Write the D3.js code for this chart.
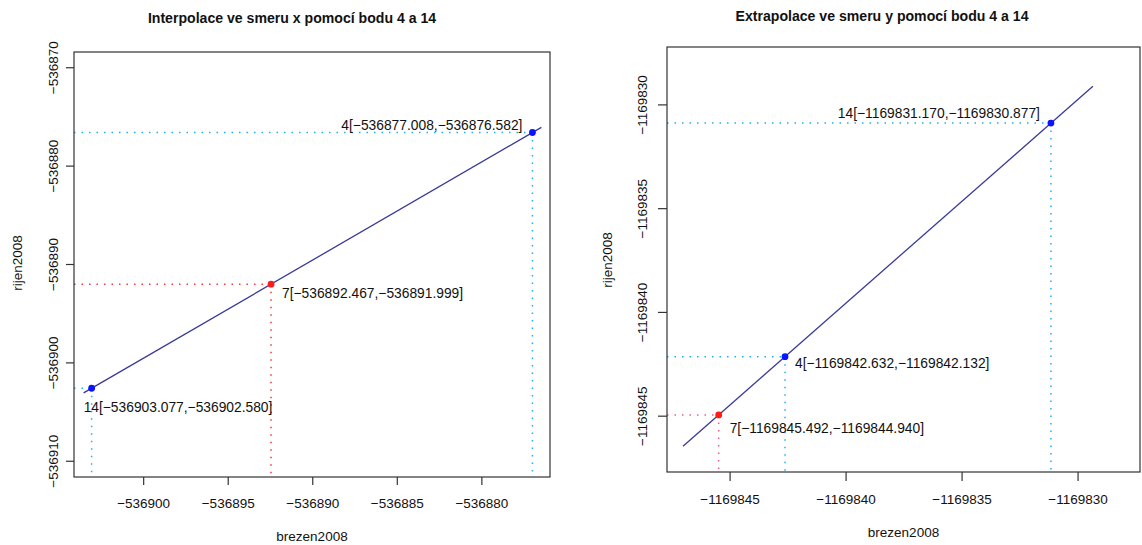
<!DOCTYPE html>
<html>
<head>
<meta charset="utf-8">
<script src="https://cdn.jsdelivr.net/npm/d3@7/dist/d3.min.js"></script>
<style>
  html, body { margin: 0; padding: 0; background: #fff; }
  svg { display: block; font-family: "Liberation Sans", Arial, Helvetica, sans-serif; }
</style>
</head>
<body>
<svg id="chart" width="1142" height="545"></svg>
<script>
// ---- Interpolation in x using points 4 and 14 ----
const leftTitle = "Interpolace ve smeru x pomocí bodu 4 a 14";
const leftPointIds = ["4", "7", "14"];
const leftPointX = [-536877.008, -536892.467, -536903.077];
const leftPointY = [-536876.582, -536891.999, -536902.580];
const leftPointRole = ["known", "computed", "known"];
const leftLineX = [-536903.55, -536876.48];
const leftLineY = [-536903.05, -536876.06];
const leftXDomain = [-536904.12, -536875.97];
const leftYDomain = [-536911.6, -536868.4];
const leftXTicks = [-536900, -536895, -536890, -536885, -536880];
const leftYTicks = [-536910, -536900, -536890, -536880, -536870];

// ---- Extrapolation in y using points 4 and 14 ----
const rightTitle = "Extrapolace ve smeru y pomocí bodu 4 a 14";
const rightPointIds = ["14", "4", "7"];
const rightPointX = [-1169831.170, -1169842.632, -1169845.492];
const rightPointY = [-1169830.877, -1169842.132, -1169844.940];
const rightPointRole = ["known", "known", "computed"];
const rightLineX = [-1169847.03, -1169829.36];
const rightLineY = [-1169846.45, -1169829.10];
const rightXDomain = [-1169847.72, -1169827.33];
const rightYDomain = [-1169847.69, -1169827.21];
const rightXTicks = [-1169845, -1169840, -1169835, -1169830];
const rightYTicks = [-1169845, -1169840, -1169835, -1169830];

const xLabel = "brezen2008";
const yLabel = "rijen2008";

const svg = d3.select("#chart");
const fmt3 = d3.format(".3f");
const fmtTick = d3.format("d");

function drawPanel(opt) {
  const g = svg.append("g");
  const x = d3.scaleLinear().domain(opt.xDomain).range([opt.box.left, opt.box.right]);
  const y = d3.scaleLinear().domain(opt.yDomain).range([opt.box.bottom, opt.box.top]);

  const pts = opt.ids.map((id, i) => ({
    id, x: opt.px[i], y: opt.py[i], role: opt.roles[i]
  }));

  // dotted guides from each point to the left and bottom edges
  const guides = g.append("g").attr("fill", "none")
    .attr("stroke-width", 1.5).attr("stroke-dasharray", "1.5,6");
  pts.forEach(p => {
    const c = p.role === "known" ? opt.guideKnown : opt.guideComputed;
    guides.append("line")
      .attr("x1", x(opt.xDomain[0])).attr("x2", x(p.x))
      .attr("y1", y(p.y)).attr("y2", y(p.y)).attr("stroke", c);
    guides.append("line")
      .attr("x1", x(p.x)).attr("x2", x(p.x))
      .attr("y1", y(p.y)).attr("y2", y(opt.yDomain[0])).attr("stroke", c);
  });

  // line through the two reference points
  g.append("path")
    .datum(opt.lineX.map((v, i) => [v, opt.lineY[i]]))
    .attr("fill", "none").attr("stroke", "#3a3a98").attr("stroke-width", 1.3)
    .attr("d", d3.line().x(d => x(d[0])).y(d => y(d[1])));

  // points
  g.selectAll("circle.pt").data(pts).join("circle")
    .attr("class", "pt")
    .attr("cx", d => x(d.x)).attr("cy", d => y(d.y)).attr("r", 3.4)
    .attr("fill", d => d.role === "known" ? "#0a14ff" : "#ff1a1a");

  // point labels
  g.selectAll("text.lab").data(pts).join("text")
    .attr("class", "lab")
    .attr("font-size", 13.8).attr("fill", "#111")
    .attr("text-anchor", d => opt.place[d.id].anchor)
    .attr("x", d => x(d.x) + opt.place[d.id].dx)
    .attr("y", d => y(d.y) + opt.place[d.id].dy)
    .text(d => `${d.id}[${fmt3(d.x).replace("-", "−")},${fmt3(d.y).replace("-", "−")}]`);

  // frame
  g.append("rect")
    .attr("x", opt.box.left).attr("y", opt.box.top)
    .attr("width", opt.box.right - opt.box.left)
    .attr("height", opt.box.bottom - opt.box.top)
    .attr("fill", "none").attr("stroke", "#333").attr("stroke-width", 1.2);

  // x axis ticks and labels
  const xt = g.append("g");
  opt.xTicks.forEach(t => {
    xt.append("line").attr("x1", x(t)).attr("x2", x(t))
      .attr("y1", opt.box.bottom).attr("y2", opt.box.bottom + opt.tickLen)
      .attr("stroke", "#333").attr("stroke-width", 1.2);
    xt.append("text").attr("x", x(t)).attr("y", opt.xTickBase)
      .attr("text-anchor", "middle").attr("font-size", 13.5).attr("fill", "#111")
      .text(fmtTick(t).replace("-", "−"));
  });
  // y axis ticks and labels (rotated, as in the base graphics style)
  const yt = g.append("g");
  opt.yTicks.forEach(t => {
    yt.append("line").attr("x1", opt.box.left - opt.tickLen).attr("x2", opt.box.left)
      .attr("y1", y(t)).attr("y2", y(t))
      .attr("stroke", "#333").attr("stroke-width", 1.2);
    yt.append("text")
      .attr("transform", `translate(${opt.yTickBase},${y(t)}) rotate(-90)`)
      .attr("text-anchor", "middle").attr("font-size", 13.5).attr("fill", "#111")
      .text(fmtTick(t).replace("-", "−"));
  });

  // axis titles
  g.append("text").attr("x", (opt.box.left + opt.box.right) / 2).attr("y", opt.xTitleBase)
    .attr("text-anchor", "middle").attr("font-size", 13.5).attr("fill", "#111").text(xLabel);
  g.append("text")
    .attr("transform", `translate(${opt.yTitleBase},${opt.yTitleMid}) rotate(-90)`)
    .attr("text-anchor", "middle").attr("font-size", 13.5).attr("fill", "#111").text(yLabel);

  // main title
  g.append("text").attr("x", opt.titleX).attr("y", opt.titleBase)
    .attr("text-anchor", "middle").attr("font-size", 14.1).attr("font-weight", "bold")
    .attr("fill", "#111").text(opt.title);
}

drawPanel({
  title: leftTitle, titleX: 292, titleBase: 23,
  ids: leftPointIds, px: leftPointX, py: leftPointY, roles: leftPointRole,
  lineX: leftLineX, lineY: leftLineY,
  xDomain: leftXDomain, yDomain: leftYDomain,
  xTicks: leftXTicks, yTicks: leftYTicks,
  box: { left: 74, right: 550, top: 52, bottom: 477 },
  tickLen: 8, xTickBase: 508, xTitleBase: 541,
  yTickBase: 58, yTitleBase: 22, yTitleMid: 263,
  guideKnown: "#1fb0f0", guideComputed: "#f23a3a",
  place: {
    "4": { anchor: "end", dx: -10, dy: -2 },
    "7": { anchor: "start", dx: 11, dy: 14 },
    "14": { anchor: "start", dx: -8, dy: 24 }
  }
});

drawPanel({
  title: rightTitle, titleX: 882, titleBase: 21,
  ids: rightPointIds, px: rightPointX, py: rightPointY, roles: rightPointRole,
  lineX: rightLineX, lineY: rightLineY,
  xDomain: rightXDomain, yDomain: rightYDomain,
  xTicks: rightXTicks, yTicks: rightYTicks,
  box: { left: 667, right: 1140, top: 47, bottom: 472 },
  tickLen: 9, xTickBase: 504, xTitleBase: 537,
  yTickBase: 647, yTitleBase: 612, yTitleMid: 260,
  guideKnown: "#1fb0f0", guideComputed: "#ee5c8c",
  place: {
    "14": { anchor: "end", dx: -11, dy: -5 },
    "4": { anchor: "start", dx: 10, dy: 11 },
    "7": { anchor: "start", dx: 11, dy: 18 }
  }
});
</script>
</body>
</html>
